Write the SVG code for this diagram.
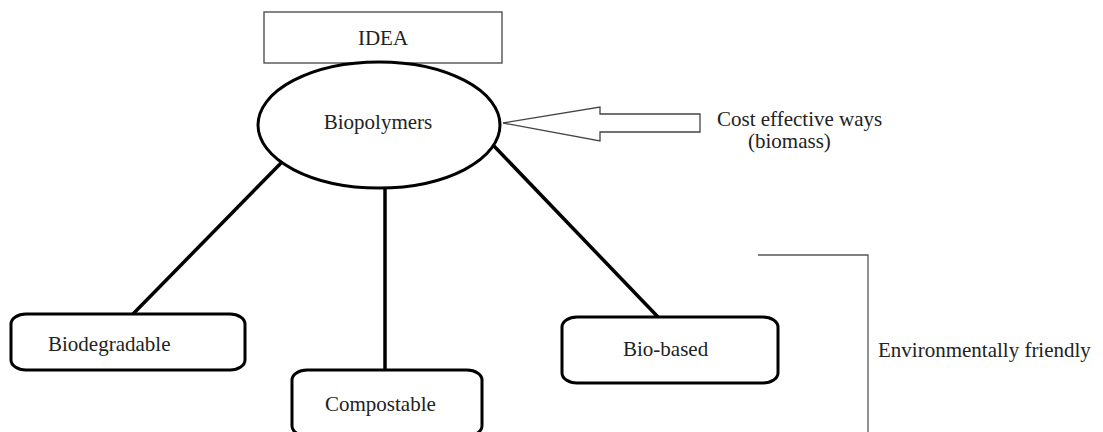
<svg xmlns="http://www.w3.org/2000/svg" width="1103" height="432" viewBox="0 0 1103 432">
<style>
text{font-family:"Liberation Serif","Times New Roman",serif;font-size:21px;fill:#222}
.node{fill:#fff;stroke:#000;stroke-width:3}
.conn{stroke:#000;stroke-width:3.5;fill:none}
.thin{fill:#fff;stroke:#444;stroke-width:1.3}
</style>
<rect width="1103" height="432" fill="#fff"/>
<g id="connectors">
<line class="conn" x1="282" y1="162" x2="133" y2="314"/>
<line class="conn" x1="385" y1="188" x2="385" y2="370"/>
<line class="conn" x1="494" y1="146" x2="658" y2="317"/>
</g>
<g id="idea">
<rect class="thin" x="264" y="12" width="238" height="51" stroke="#555" stroke-width="1.5"/>
<text x="383" y="45" text-anchor="middle">IDEA</text>
</g>
<g id="biopolymers">
<ellipse class="node" cx="379" cy="125" rx="121" ry="63"/>
<text x="378" y="129" text-anchor="middle">Biopolymers</text>
</g>
<g id="arrow">
<polygon class="thin" points="503,123 600,107 600,114 700,114 700,132 600,132 600,141"/>
</g>
<g id="cost">
<text x="717" y="126">Cost effective ways</text>
<text x="748" y="148">(biomass)</text>
</g>
<g id="biodegradable">
<rect class="node" x="11" y="314" width="234" height="56" rx="15" ry="10"/>
<text x="48" y="351">Biodegradable</text>
</g>
<g id="compostable">
<rect class="node" x="292" y="370" width="190" height="66" rx="15" ry="10"/>
<text x="325" y="411">Compostable</text>
</g>
<g id="biobased">
<rect class="node" x="562" y="317" width="216" height="66" rx="15" ry="10"/>
<text x="623" y="356">Bio-based</text>
</g>
<g id="bracket">
<polyline points="758,255 868,255 868,432" fill="none" stroke="#555" stroke-width="1.3"/>
</g>
<g id="env">
<text x="878" y="357">Environmentally friendly</text>
</g>
</svg>
